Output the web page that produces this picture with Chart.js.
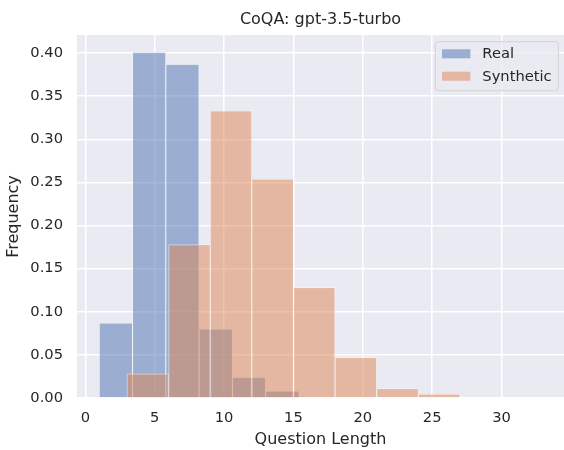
<!DOCTYPE html>
<html>
<head>
  <title>CoQA: gpt-3.5-turbo</title>
  <script src="https://cdn.jsdelivr.net/npm/chart.js"></script>
  <style>
    body { margin: 0; background: #ffffff; }
  </style>
</head>
<body>
  <div style="width: 564px; height: 450px;">
    <canvas id="histPlot" width="564" height="450"></canvas>
  </div>

  <script>
    // bin edges and relative frequencies
    const realEdges = [1, 3.4, 5.8, 8.2, 10.6, 13, 15.4, 17.8, 20.2, 22.6, 25];
    const realFreq = [0.087, 0.401, 0.387, 0.080, 0.024, 0.008, 0, 0, 0, 0];
    const synthEdges = [3, 6, 9, 12, 15, 18, 21, 24, 27, 30, 33];
    const synthFreq = [0.028, 0.178, 0.333, 0.254, 0.128, 0.047, 0.011, 0.0045, 0, 0];
    const xTicks = [0, 5, 10, 15, 20, 25, 30];
    const yTicks = [0, 0.05, 0.10, 0.15, 0.20, 0.25, 0.30, 0.35, 0.40];

    const seriesNames = ['Real', 'Synthetic'];
    const textColor = '#262626';
    const fontFamily = "'DejaVu Sans', sans-serif";

    // one point per bin, placed at the bin centre
    function binPoints(edges, freq) {
      return freq.map((v, i) => ({ x: (edges[i] + edges[i + 1]) / 2, y: v }));
    }

    // darkgrid style background behind the plot area
    const plotBackground = {
      id: 'plotBackground',
      beforeDraw(chart) {
        const { ctx, chartArea } = chart;
        ctx.save();
        ctx.fillStyle = '#eaeaf2';
        ctx.fillRect(chartArea.left, chartArea.top, chartArea.right - chartArea.left, chartArea.bottom - chartArea.top);
        ctx.restore();
      }
    };

    // matplotlib-like legend box in the upper right corner
    const cornerLegend = {
      id: 'cornerLegend',
      afterDatasetsDraw(chart) {
        const { ctx, chartArea } = chart;
        const sets = chart.data.datasets;
        ctx.save();
        ctx.font = '14.7px ' + fontFamily;
        const textW = Math.max(...sets.map(d => ctx.measureText(d.label).width));
        const w = 47 + textW + 6.6;
        const h = 49;
        const x = chartArea.right - 5.7 - w;
        const y = chartArea.top + 6.7;

        ctx.beginPath();
        ctx.roundRect(x, y, w, h, 3);
        ctx.fillStyle = 'rgba(234,234,242,0.8)';
        ctx.fill();
        ctx.lineWidth = 1;
        ctx.strokeStyle = 'rgba(204,204,204,0.8)';
        ctx.stroke();

        sets.forEach((d, i) => {
          const cy = y + 12.1 + i * 22.4;
          ctx.fillStyle = d.backgroundColor;
          ctx.fillRect(x + 6.7, cy - 4.5, 28.3, 9);
          ctx.fillStyle = textColor;
          ctx.textAlign = 'left';
          ctx.textBaseline = 'middle';
          ctx.fillText(d.label, x + 47, cy + 0.5);
        });
        ctx.restore();
      }
    };

    function createHistogram() {
      const ctx = document.getElementById('histPlot').getContext('2d');

      const xAxis = {
        type: 'linear',
        min: -0.6,
        max: 34.5,
        offset: false,
        grid: { color: '#ffffff', lineWidth: 1.5, drawTicks: false, offset: false },
        border: { display: false }
      };

      new Chart(ctx, {
        type: 'bar',
        data: {
          datasets: [
            {
              label: seriesNames[0],
              data: binPoints(realEdges, realFreq),
              xAxisID: 'x',
              backgroundColor: 'rgba(76,114,176,0.5)',
              borderColor: 'rgba(255,255,255,0.5)',
              borderWidth: 0.8,
              order: 1
            },
            {
              label: seriesNames[1],
              data: binPoints(synthEdges, synthFreq),
              xAxisID: 'x2',
              backgroundColor: 'rgba(221,132,82,0.5)',
              borderColor: 'rgba(255,255,255,0.5)',
              borderWidth: 0.8,
              order: 0
            }
          ]
        },
        options: {
          responsive: false,
          animation: false,
          grouped: false,
          barPercentage: 1,
          categoryPercentage: 1,
          layout: { padding: 0 },
          scales: {
            x: {
              ...xAxis,
              position: 'bottom',
              afterBuildTicks: axis => { axis.ticks = xTicks.map(v => ({ value: v })); },
              afterFit: axis => { axis.height = 52; },
              ticks: {
                color: textColor,
                padding: 11,
                font: { family: fontFamily, size: 14.7 },
                maxRotation: 0
              },
              title: {
                display: true,
                text: 'Question Length',
                color: textColor,
                font: { family: fontFamily, size: 16 },
                padding: { top: 0, bottom: 1 }
              }
            },
            x2: {
              ...xAxis,
              position: 'bottom',
              display: false,
              ticks: { stepSize: 10 }
            },
            y: {
              type: 'linear',
              min: 0,
              max: 0.421,
              afterBuildTicks: axis => { axis.ticks = yTicks.map(v => ({ value: v })); },
              afterFit: axis => { axis.width = 77; },
              grid: { color: '#ffffff', lineWidth: 1.5, drawTicks: false },
              border: { display: false },
              ticks: {
                color: textColor,
                padding: 14,
                font: { family: fontFamily, size: 14.7 },
                callback: v => v.toFixed(2)
              },
              title: {
                display: true,
                text: 'Frequency',
                color: textColor,
                font: { family: fontFamily, size: 16 },
                padding: { top: 4, bottom: 0 }
              }
            }
          },
          plugins: {
            legend: { display: false },
            tooltip: { enabled: false },
            title: {
              display: true,
              fullSize: false,
              text: 'CoQA: gpt-3.5-turbo',
              color: textColor,
              font: { family: fontFamily, size: 16, weight: 'normal' },
              padding: { top: 10.7, bottom: 5.1 }
            }
          }
        },
        plugins: [plotBackground, cornerLegend]
      });
    }

    window.onload = createHistogram;
  </script>
</body>
</html>
